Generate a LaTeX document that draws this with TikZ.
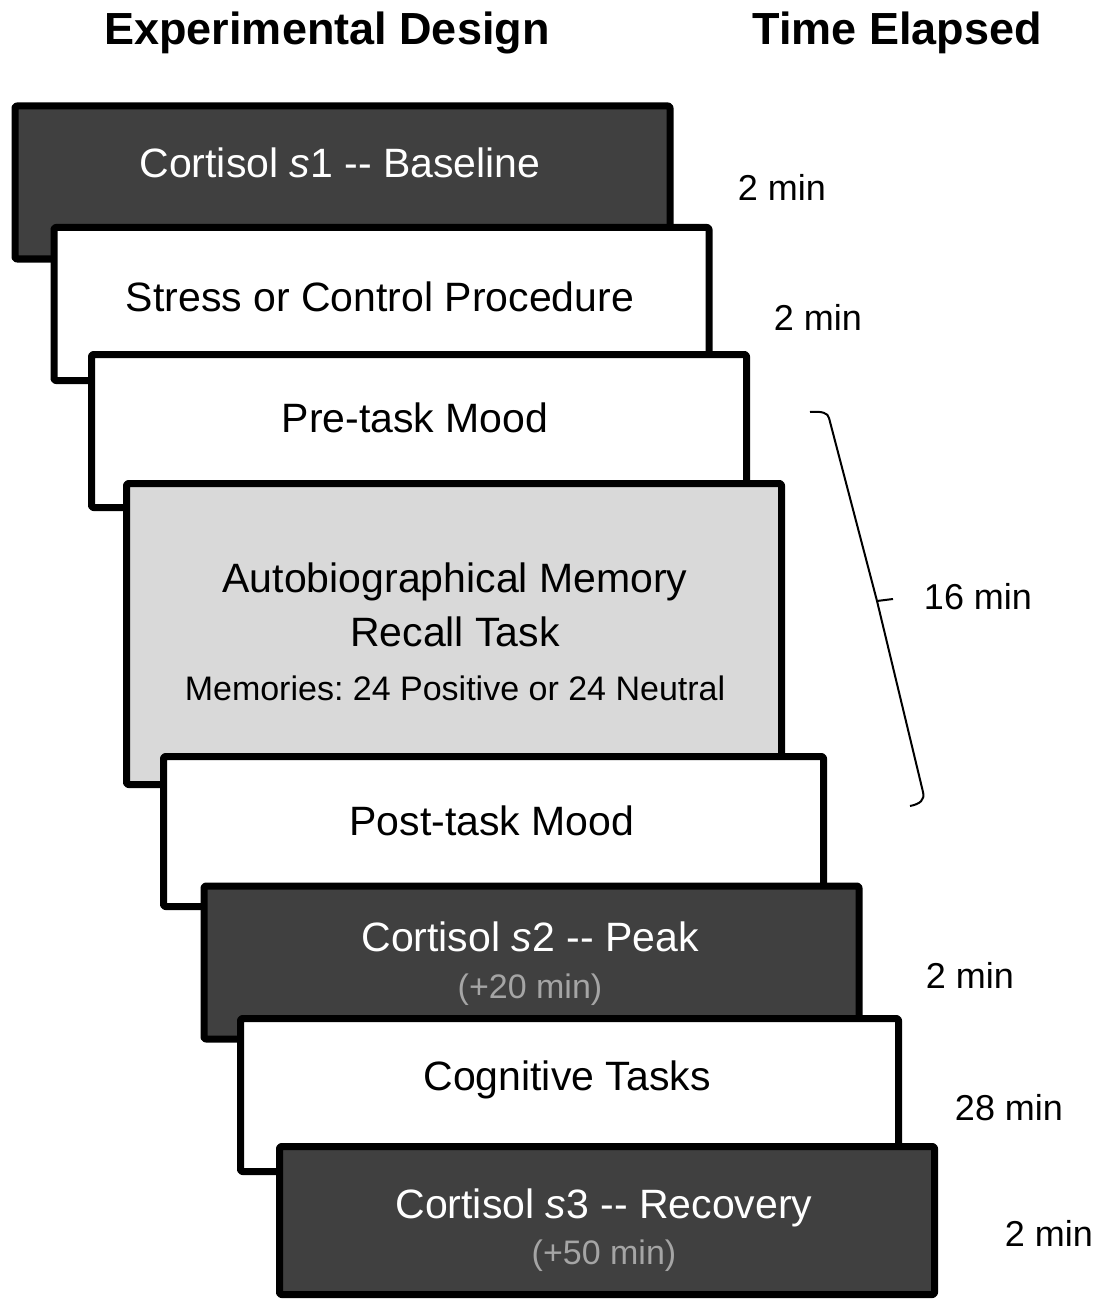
\documentclass[tikz,border=0pt]{standalone}
\usepackage{fontspec}
\setmainfont{Liberation Sans}
\usetikzlibrary{positioning}
\frenchspacing
\definecolor{darkbox}{RGB}{64,64,64}
\definecolor{lightbox}{RGB}{217,217,217}
\definecolor{subgray}{RGB}{165,165,165}
\tikzset{
  stage/.style={draw=black, line width=3.5pt, rounded corners=1pt, inner sep=0pt,
    minimum width=327.5pt, minimum height=76.5pt, fill=white},
  darkstage/.style={stage, fill=darkbox},
  steptext/.style={font=\fontsize{20.5}{24}\selectfont, inner sep=0pt},
  subtext/.style={font=\fontsize{17}{20}\selectfont, inner sep=0pt},
  timetext/.style={font=\fontsize{18}{21}\selectfont, inner sep=0pt},
  headtext/.style={font=\bfseries\fontsize{22.5}{26}\selectfont, inner sep=0pt}
}
\begin{document}
\begin{tikzpicture}[x=0.5pt, y=-0.5pt, line join=round]
    \useasboundingbox (0,0) rectangle (1106,1300);
    % headings
    \node[headtext] (hdesign) at (327,33) {Experimental Design};
    \node[headtext] (htime) at (897,33) {Time Elapsed};
    % stacked stages
    \node[darkstage] (s1) at (342.5,182.5) {};
    \node[stage] (s2) at (381.5,304) {};
    \node[stage] (s3) at (419,431) {};
    \node[stage, fill=lightbox, minimum height=150.5pt] (s4) at (454,634) {};
    \node[stage, minimum width=330pt, minimum height=75pt] (s5) at (493.5,831.5) {};
    \node[darkstage] (s6) at (531.5,962.5) {};
    \node[stage, minimum width=329pt] (s7) at (569.5,1095) {};
    \node[darkstage, minimum height=74pt] (s8) at (607,1220.5) {};
    % stage texts
    \node[steptext, text=white] (t1) at (340,163) {Cortisol \textit{s}1 -{}- Baseline};
    \node[steptext] (t2) at (380,297) {Stress or Control Procedure};
    \node[steptext] (t3) at (415,418) {Pre-task Mood};
    \node[steptext] (t4a) at (455,582) {Autobiographical Memory};
    \node[steptext] (t4b) at (455,632) {Recall Task};
    \node[subtext] (t4c) at (455,688) {Memories: 24 Positive or 24 Neutral};
    \node[steptext] (t5) at (492,821) {Post-task Mood};
    \node[steptext, text=white] (t6) at (530,937) {Cortisol \textit{s}2 -{}- Peak};
    \node[subtext, text=subgray] (t6b) at (530,990) {(+20 min)};
    \node[steptext] (t7) at (567,1080) {Cognitive Tasks};
    \node[steptext, text=white] (t8) at (604,1208) {Cortisol \textit{s}3 -{}- Recovery};
    \node[subtext, text=subgray] (t8b) at (604,1256) {(+50 min)};
    % elapsed times
    \node[timetext] (m1) at (782,187) {2 min};
    \node[timetext] (m2) at (818,317) {2 min};
    \node[timetext] (m3) at (978,597) {16 min};
    \node[timetext] (m4) at (970,975) {2 min};
    \node[timetext] (m5) at (1009,1108) {28 min};
    \node[timetext] (m6) at (1049,1233) {2 min};
    % bracket for the 16 min span
    \coordinate (bt) at (810,412);
    \coordinate (bm) at (877,601);
    \coordinate (bb) at (910,806);
    \draw[line width=1pt] (bt) .. controls (822,411) and (828,413) .. (829,418)
        -- (bm) -- (893,599);
    \draw[line width=1pt] (bm) -- (923,792) .. controls (925,800) and (920,804) .. (bb);
\end{tikzpicture}
\end{document}
